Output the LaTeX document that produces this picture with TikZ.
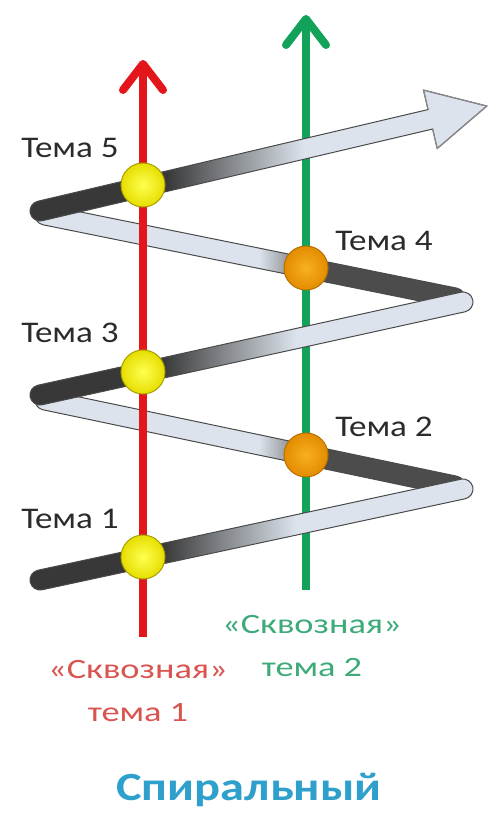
\documentclass[tikz,border=0pt]{standalone}
\usepackage{fontspec}
\setmainfont{Carlito}
\usetikzlibrary{arrows.meta}
\definecolor{dk}{HTML}{383838}
\definecolor{lt}{HTML}{DCE3EC}
\definecolor{bk}{HTML}{4C4C4C}
\definecolor{outl}{HTML}{4A4A4A}
\definecolor{headl}{HTML}{8A8A8A}
\definecolor{redl}{HTML}{E3161B}
\definecolor{greenl}{HTML}{12A25A}
\definecolor{redt}{HTML}{D9534F}
\definecolor{greent}{HTML}{3DAA78}
\definecolor{titlec}{HTML}{2FA0CC}
\definecolor{labc}{HTML}{2B2B2B}
\definecolor{yin}{HTML}{FFFF50}
\definecolor{yout}{HTML}{E6DE00}
\definecolor{yrim}{HTML}{A8A000}
\definecolor{oin}{HTML}{F8B020}
\definecolor{oout}{HTML}{E38C00}
\definecolor{orim}{HTML}{B87000}
\pgfdeclarehorizontalshading{frontsh}{100bp}{color(0bp)=(dk); color(40bp)=(dk); color(55bp)=(lt); color(100bp)=(lt)}
\pgfdeclarehorizontalshading{backsh}{100bp}{color(0bp)=(lt); color(51bp)=(lt); color(58bp)=(bk); color(100bp)=(bk)}
\newcommand\segbar[5]{%
  \begin{scope}[shift={(#1,#2)}, rotate=#3]
    \shade[shading=#5, draw=outl, line width=1pt]
      (0,10) -- (#4,10) arc[start angle=90,end angle=-90,radius=10]
      -- (0,-10) arc[start angle=270,end angle=90,radius=10] -- cycle;
  \end{scope}}
\newcommand\hs[2]{\scalebox{#1}[1]{#2}}
\tikzset{
  lab/.style={text=labc, font=\fontsize{30}{30}\selectfont, inner sep=0pt},
  ylball/.style={circle, minimum size=44pt, inner sep=0pt, draw=yrim, line width=1pt, shading=radial, inner color=yin, outer color=yout},
  orball/.style={circle, minimum size=44pt, inner sep=0pt, draw=orim, line width=1pt, shading=radial, inner color=oin, outer color=oout},
  thread/.style={line width=8pt, -{Straight Barb[length=26pt,width=40pt,round]}},
  captext/.style={font=\fontsize{28}{28}\selectfont, inner sep=0pt}
}
\begin{document}
\begin{tikzpicture}[x=1pt,y=1pt]
\useasboundingbox (0,0) rectangle (488,814);
% back segments
\segbar{45}{414}{-11.85}{418.9}{backsh}
\segbar{45}{599}{-11.44}{418.3}{backsh}
% threads
\coordinate (rb) at (143,177);
\coordinate (rt) at (143,754);
\coordinate (gb) at (306,224);
\coordinate (gt) at (306,799);
\draw[thread, redl] (rb) -- (rt);
\draw[thread, greenl] (gb) -- (gt);
% front segments
\segbar{40}{234}{12.14}{432.7}{frontsh}
\segbar{40}{419}{12.40}{433.1}{frontsh}
\begin{scope}[shift={(40,603)}, rotate=13.22]
  \shade[shading=frontsh, draw=outl, line width=1pt]
    (0,10) -- (401,10) -- (401,30) -- (459,0) -- (401,-30) -- (401,-10)
    -- (0,-10) arc[start angle=270,end angle=90,radius=10] -- cycle;
  \draw[headl, line width=1.2pt, line join=round] (401,10) -- (401,30) -- (459,0) -- (401,-30) -- (401,-10);
\end{scope}
% balls
\node[ylball] (t1) at (143,257) {};
\node[ylball] (t3) at (143,442) {};
\node[ylball] (t5) at (143,629) {};
\node[orball] (t2) at (306,359) {};
\node[orball] (t4) at (306,546) {};
% labels
\node[lab] (l5) at (70,666) {\hs{1.17}{Тема 5}};
\node[lab] (l4) at (384,573) {\hs{1.17}{Тема 4}};
\node[lab] (l3) at (70,481) {\hs{1.17}{Тема 3}};
\node[lab] (l2) at (384,387) {\hs{1.17}{Тема 2}};
\node[lab] (l1) at (70,295) {\hs{1.17}{Тема 1}};
\node[captext, text=redt] (r1) at (138,144) {\hs{1.3}{«Сквозная»}};
\node[captext, text=redt] (r2) at (138,101) {\hs{1.3}{тема 1}};
\node[captext, text=greent] (g1) at (312,189) {\hs{1.3}{«Сквозная»}};
\node[captext, text=greent] (g2) at (312,146) {\hs{1.3}{тема 2}};
\node[font=\fontsize{40}{40}\selectfont\bfseries, text=titlec, inner sep=0pt] (title) at (249,24) {\hs{1.21}{Спиральный}};
\end{tikzpicture}
\end{document}
